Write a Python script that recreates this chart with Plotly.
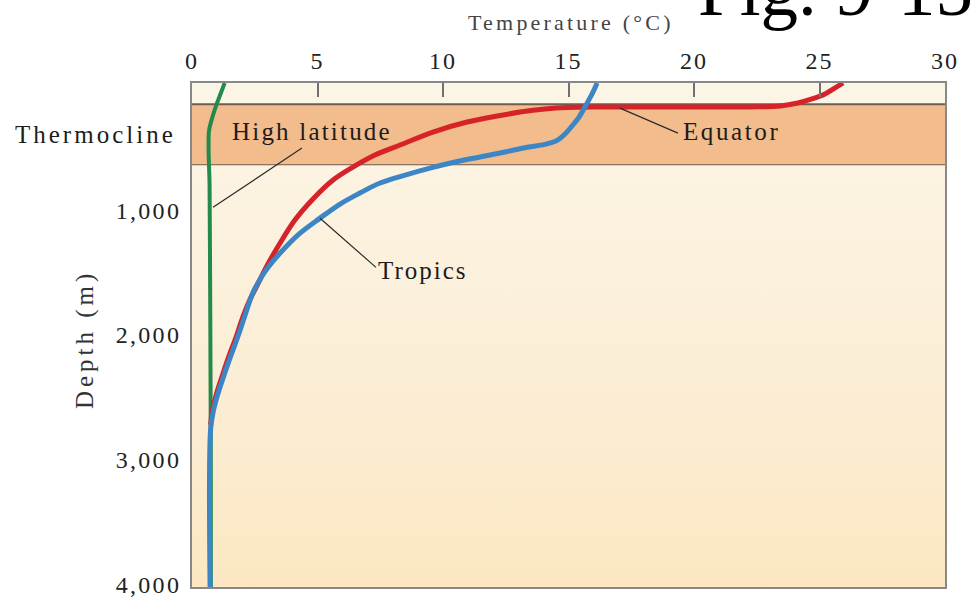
import plotly.graph_objects as go

# Temperature profiles with depth (°C vs m)
hi_lat_temp = [1.30, 1.15, 1.00, 0.82, 0.68, 0.66, 0.70, 0.72, 0.74, 0.75, 0.75]
hi_lat_depth = [-20, 60, 140, 250, 360, 500, 800, 1500, 2400, 3200, 4020]

equator_temp = [25.94, 25.62, 25.22, 24.70, 24.14, 23.43, 22.23, 20.24, 18.25,
                16.25, 14.94, 14.06, 13.07, 12.27, 10.96, 9.60, 8.29, 7.29,
                6.41, 5.62, 4.82, 4.10, 3.51, 3.00, 2.60, 2.30, 2.00, 1.75,
                1.47, 1.20, 0.95, 0.80, 0.74]
equator_depth = [-20, 20, 68, 108, 140, 164, 172, 172, 172,
                 172, 176, 188, 213, 241, 293, 373, 477, 557,
                 654, 758, 910, 1079, 1263, 1440, 1600, 1720, 1870, 2020,
                 2170, 2330, 2490, 2620, 2720]

tropics_temp = [16.14, 15.94, 15.70, 15.42, 15.14, 14.86, 14.55, 14.05, 13.30,
                12.47, 11.47, 10.48, 9.48, 8.49, 7.49, 6.69, 5.90, 5.10, 4.26,
                3.51, 2.95, 2.45, 2.10, 1.85, 1.56, 1.28, 1.02, 0.84, 0.74, 0.72]
tropics_depth = [-20, 68, 156, 253, 325, 389, 440, 472, 497,
                 533, 573, 613, 662, 718, 782, 862, 950, 1063, 1191,
                 1343, 1480, 1650, 1850, 2000, 2160, 2320, 2480, 2620, 2760, 4020]

thermocline_top, thermocline_bottom = 150, 640

x_ticks = [0, 5, 10, 15, 20, 25, 30]
x_tick_text = ["0", "5", "10", "15", "20", "25", "30"]
y_ticks = [1000, 2000, 3000, 4000]
y_tick_text = ["1,000", "2,000", "3,000", "4,000"]

SERIF = "Liberation Serif, Times New Roman, serif"


def spaced(text, px):
    return f'<span style="letter-spacing:{px}px">{text}</span>'


fig = go.Figure()

# deep-water background: soft vertical gradient below the thermocline
fig.add_trace(go.Scatter(
    x=[0, 30, 30, 0, 0],
    y=[thermocline_bottom, thermocline_bottom, 4020, 4020, thermocline_bottom],
    mode="lines", line=dict(width=0), fill="toself",
    fillgradient=dict(type="vertical", start=thermocline_bottom, stop=4020,
                      colorscale=[[0, "#FCF3E2"], [0.5, "#FBEED6"], [1, "#FCE7C2"]]),
    hoverinfo="skip", showlegend=False))

line_style = dict(shape="spline", smoothing=1.0)
fig.add_trace(go.Scatter(x=hi_lat_temp, y=hi_lat_depth, mode="lines",
                         line=dict(color="#238A4B", width=4, **line_style),
                         showlegend=False, name="High latitude"))
fig.add_trace(go.Scatter(x=equator_temp, y=equator_depth, mode="lines",
                         line=dict(color="#D6232A", width=5, **line_style),
                         showlegend=False, name="Equator"))
fig.add_trace(go.Scatter(x=tropics_temp, y=tropics_depth, mode="lines",
                         line=dict(color="#3D86C5", width=5, **line_style),
                         showlegend=False, name="Tropics"))

# leader lines from labels to curves
leaders = [
    ([0.84, 4.38], [976, 502]),     # High latitude
    ([5.1, 7.33], [1064, 1458]),    # Tropics
    ([17.05, 19.36], [181, 382]),   # Equator
]
for lx, ly in leaders:
    fig.add_trace(go.Scatter(x=lx, y=ly, mode="lines",
                             line=dict(color="#2b2b2b", width=1.2),
                             hoverinfo="skip", showlegend=False))

shapes = [
    dict(type="rect", xref="x", yref="y", x0=0, x1=30,
         y0=thermocline_top, y1=thermocline_bottom,
         fillcolor="#F2BC8C", line=dict(width=0), layer="below"),
    dict(type="line", xref="x", yref="y", x0=0, x1=30,
         y0=thermocline_top, y1=thermocline_top,
         line=dict(color="#6E5E50", width=2), layer="below"),
    dict(type="line", xref="x", yref="y", x0=0, x1=30,
         y0=thermocline_bottom, y1=thermocline_bottom,
         line=dict(color="#6E5E50", width=2), layer="below"),
]

label_font = dict(family=SERIF, size=25, color="#1c1c1c")
annotations = [
    dict(text=spaced("Thermocline", 3.0), xref="paper", yref="y",
         x=-0.238, y=395, xanchor="left", yanchor="middle",
         showarrow=False, font=label_font),
    dict(text=spaced("High latitude", 2.2), xref="x", yref="y",
         x=4.8, y=365, xanchor="center", yanchor="middle",
         showarrow=False, font=label_font),
    dict(text=spaced("Equator", 2.6), xref="x", yref="y",
         x=21.5, y=365, xanchor="center", yanchor="middle",
         showarrow=False, font=label_font),
    dict(text=spaced("Tropics", 2.0), xref="x", yref="y",
         x=9.2, y=1480, xanchor="center", yanchor="middle",
         showarrow=False, font=label_font),
    dict(text=spaced("Temperature (°C)", 3.2), xref="paper", yref="paper",
         x=0.503, y=1.12, xanchor="center", yanchor="middle",
         showarrow=False, font=dict(family=SERIF, size=22, color="#444444")),
    dict(text=spaced("Depth (m)", 4.0), xref="paper", yref="paper",
         x=-0.142, y=0.49, xanchor="center", yanchor="middle", textangle=-90,
         showarrow=False, font=dict(family=SERIF, size=25, color="#333333")),
    dict(text="Fig. 9-15", xref="paper", yref="paper",
         x=0.669, y=1.099, xanchor="left", yanchor="bottom",
         showarrow=False, font=dict(family=SERIF, size=75, color="#000000")),
]

fig.update_layout(
    width=975, height=599,
    margin=dict(l=192, r=30, t=83, b=12, autoexpand=False),
    paper_bgcolor="white",
    plot_bgcolor="#FBF5E6",
    shapes=shapes,
    annotations=annotations,
    showlegend=False,
    xaxis=dict(
        range=[0, 30], side="top", automargin=False,
        tickvals=x_ticks, ticktext=[spaced(t, 2) for t in x_tick_text],
        ticks="inside", ticklen=14, tickwidth=1.5, tickcolor="#707070",
        tickfont=dict(family=SERIF, size=24, color="#222222"),
        ticklabelstandoff=2,
        showgrid=False, zeroline=False,
        showline=True, mirror=True, linecolor="#888888", linewidth=2,
    ),
    yaxis=dict(
        range=[4020, -20], automargin=False,
        tickvals=y_ticks, ticktext=[spaced(t, 2.3) for t in y_tick_text],
        ticks="", tickfont=dict(family=SERIF, size=24, color="#222222"),
        ticklabelstandoff=4,
        showgrid=False, zeroline=False,
        showline=True, mirror=True, linecolor="#888888", linewidth=2,
    ),
)

fig.write_html("out.html")
